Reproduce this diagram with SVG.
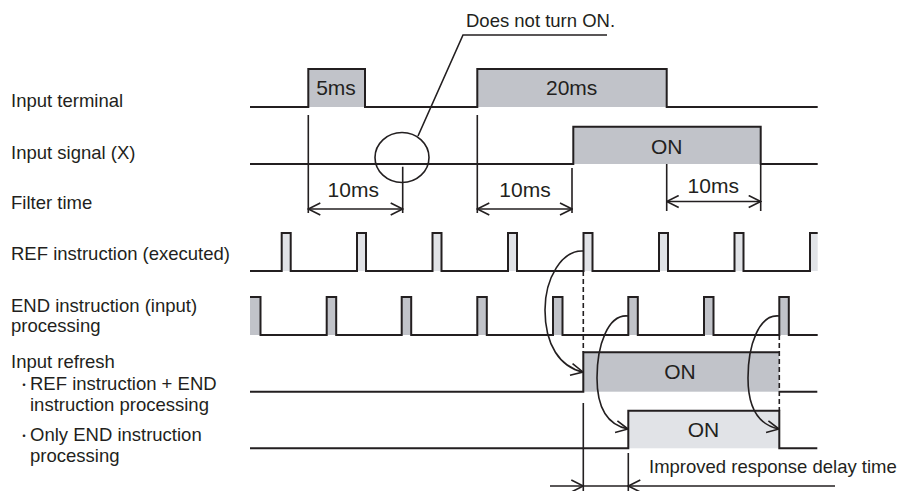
<svg xmlns="http://www.w3.org/2000/svg" width="903" height="491" viewBox="0 0 903 491">
<defs>
<style>
.lbl{font-family:"Liberation Sans",Arial,"Noto Sans CJK JP",sans-serif;font-size:18.5px;fill:#231f20}
.bul{font-family:"Noto Sans CJK JP",sans-serif;font-size:12px}
.val{font-family:"Liberation Sans",Arial,sans-serif;font-size:21px;fill:#231f20;text-anchor:middle}
.sig{fill:none;stroke:#231f20;stroke-width:2;stroke-linejoin:miter}
.ln{fill:none;stroke:#231f20;stroke-width:1.6}
.dash{fill:none;stroke:#231f20;stroke-width:1.6;stroke-dasharray:5 3}
.dk{fill:#c1c3c9}
.lt{fill:#e1e3e7}
</style>
<marker id="arr" viewBox="0 0 14 14" refX="13" refY="7" markerWidth="14" markerHeight="14" markerUnits="userSpaceOnUse" orient="auto-start-reverse">
<path d="M1,1 L13,7 L1,13" fill="none" stroke="#231f20" stroke-width="1.6"/>
</marker>
</defs>
<rect width="903" height="491" fill="#ffffff"/>

<g id="labels">
<text class="lbl" x="11" y="107">Input terminal</text>
<text class="lbl" x="11" y="159">Input signal (X)</text>
<text class="lbl" x="11" y="209">Filter time</text>
<text class="lbl" x="11" y="260">REF instruction (executed)</text>
<text class="lbl" x="11" y="312">END instruction (input)</text>
<text class="lbl" x="11" y="332">processing</text>
<text class="lbl" x="11" y="368">Input refresh</text>
<text class="lbl" y="390"><tspan class="bul" x="18">・</tspan><tspan x="30">REF instruction + END</tspan></text>
<text class="lbl" x="30" y="411">instruction processing</text>
<text class="lbl" y="441"><tspan class="bul" x="18">・</tspan><tspan x="30">Only END instruction</tspan></text>
<text class="lbl" x="30" y="462">processing</text>
</g>

<g id="input-terminal">
<rect class="dk" x="308.3" y="69" width="56.7" height="38"/>
<rect class="dk" x="477.3" y="69" width="189.4" height="38"/>
<path class="sig" d="M250,107 H308.3 V69 H365 V107 H477.3 V69 H666.7 V107 H817.7"/>
<text class="val" x="336" y="95">5ms</text>
<text class="val" x="571.7" y="95">20ms</text>
</g>

<g id="input-signal">
<rect class="dk" x="573.3" y="126.7" width="187.4" height="37.3"/>
<path class="sig" d="M250,164 H573.3 V126.7 H760.7 V164 H817.7"/>
<text class="val" x="666.7" y="153.5">ON</text>
</g>

<g id="ref-instruction">
<rect class="lt" x="281.7" y="233" width="9" height="38"/>
<rect class="lt" x="357" y="233" width="9" height="38"/>
<rect class="lt" x="432.5" y="233" width="9" height="38"/>
<rect class="lt" x="508" y="233" width="9" height="38"/>
<rect class="lt" x="583.5" y="233" width="9" height="38"/>
<rect class="lt" x="659" y="233" width="9" height="38"/>
<rect class="lt" x="734.5" y="233" width="9" height="38"/>
<rect class="lt" x="810" y="233" width="7.7" height="38"/>
<path class="sig" d="M250,271 H281.7 V233 H290.7 V271 H357 V233 H366 V271 H432.5 V233 H441.5 V271 H508 V233 H517 V271 H583.5 V233 H592.5 V271 H659 V233 H668 V271 H734.5 V233 H743.5 V271 H810 V233 H817.7"/>
</g>

<g id="end-instruction">
<rect class="dk" x="250" y="297" width="10.5" height="38"/>
<rect class="dk" x="326.7" y="297" width="9.5" height="38"/>
<rect class="dk" x="401.7" y="297" width="9.5" height="38"/>
<rect class="dk" x="477.3" y="297" width="9.5" height="38"/>
<rect class="dk" x="553" y="297" width="9.5" height="38"/>
<rect class="dk" x="628.3" y="297" width="9.5" height="38"/>
<rect class="dk" x="704" y="297" width="9.5" height="38"/>
<rect class="dk" x="779.3" y="297" width="9.5" height="38"/>
<path class="sig" d="M250,297 H260.5 V335 H326.7 V297 H336.2 V335 H401.7 V297 H411.2 V335 H477.3 V297 H486.8 V335 H553 V297 H562.5 V335 H628.3 V297 H637.8 V335 H704 V297 H713.5 V335 H779.3 V297 H788.8 V335 H817.7"/>
</g>

<g id="refresh-ref-end">
<rect class="dk" x="583.3" y="352.3" width="196" height="39.4"/>
<path class="sig" d="M250,391.7 H583.3 V352.3 H779.3"/>
<path class="sig" d="M779.3,391.7 H817.3"/>
<text class="val" x="680" y="378.5">ON</text>
</g>

<g id="refresh-end-only">
<rect class="lt" x="628.3" y="410.7" width="151" height="37.6"/>
<path class="sig" d="M250,448.3 H628.3 V410.7 H779.3 V448.3 H817.3"/>
<text class="val" x="703.5" y="437">ON</text>
</g>

<g id="callout">
<ellipse class="ln" cx="402" cy="157.5" rx="27" ry="25"/>
<path class="ln" d="M418,136 L463,35 H607"/>
<text class="lbl" x="466" y="27">Does not turn ON.</text>
</g>

<g id="connectors">
<path class="ln" d="M308.3,115 V213 M402.7,166.7 V213"/>
<path class="ln" d="M308.3,209 H402.7" marker-start="url(#arr)" marker-end="url(#arr)"/>
<text class="val" x="353.3" y="197">10ms</text>
<path class="ln" d="M477.3,115 V213 M572,168 V213"/>
<path class="ln" d="M477.3,209 H572" marker-start="url(#arr)" marker-end="url(#arr)"/>
<text class="val" x="525" y="197">10ms</text>
<path class="ln" d="M666.7,164 V211 M760.7,164 V211"/>
<path class="ln" d="M666.7,201.5 H760.7" marker-start="url(#arr)" marker-end="url(#arr)"/>
<text class="val" x="713.3" y="193">10ms</text>

<path class="dash" d="M583.3,271 V352.3"/>
<path class="dash" d="M779.3,335 V410.7"/>

<path class="ln" d="M583,251 C562,250 545,278 545,310 C545,345 560,367 583,372" marker-end="url(#arr)"/>
<path class="ln" d="M628,316 C608,314 597,345 597,378 C597,408 608,425 628,429" marker-end="url(#arr)"/>
<path class="ln" d="M779,316 C759,314 748,345 748,378 C748,408 759,425 779,429" marker-end="url(#arr)"/>

<path class="ln" d="M583.3,403 V491 M628.3,453 V491"/>
<path class="ln" d="M550,486 H583.3" marker-end="url(#arr)"/>
<path class="ln" d="M835,486 H628.3" marker-end="url(#arr)"/>
<path class="ln" d="M583.3,486 H628.3"/>
<text class="lbl" x="649" y="473">Improved response delay time</text>
</g>
</svg>
